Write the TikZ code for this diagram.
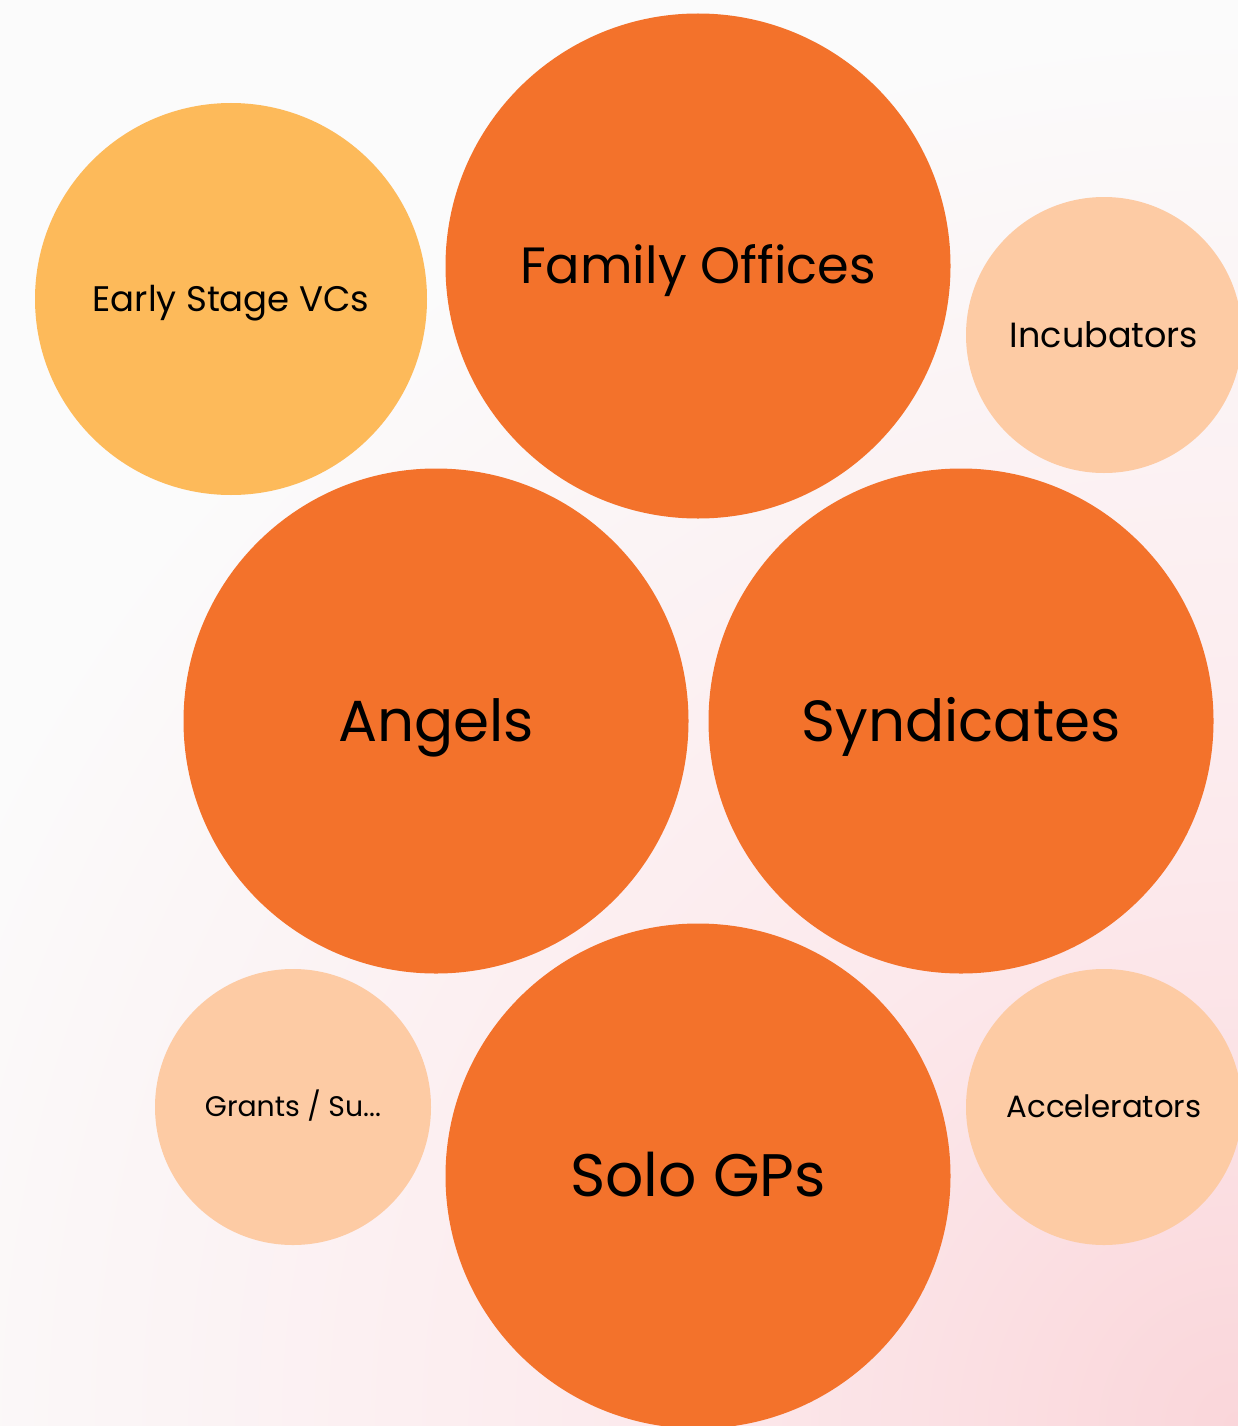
\documentclass[tikz,border=0pt]{standalone}
\usepackage{fontspec}
\setmainfont{Poppins}
\definecolor{bigor}{HTML}{F3722B}
\definecolor{midor}{HTML}{FDBA5A}
\definecolor{lightor}{HTML}{FDCBA4}
\definecolor{bgpink}{HTML}{FAD6DA}
\definecolor{bgmid}{HTML}{FCE9EC}
\definecolor{bgwhite}{HTML}{FBFBFB}
\pgfdeclareradialshading{bgshade}{\pgfpoint{0bp}{0bp}}{color(0bp)=(bgpink); color(10bp)=(bgmid); color(25bp)=(bgwhite); color(50bp)=(bgwhite)}
\newcommand{\capc}[1]{\raisebox{0pt}[\fontcharht\font`H][0pt]{#1}}
\begin{document}
\begin{tikzpicture}[x=1pt,y=-1pt,
  bubble/.style={circle,inner sep=0pt,text=black},
  big/.style={bubble,fill=bigor,minimum size=505pt,font=\fontsize{58}{66}\selectfont},
  mid/.style={bubble,fill=midor,minimum size=392pt,font=\fontsize{35.5}{42}\selectfont},
  small/.style={bubble,fill=lightor,minimum size=276pt,font=\fontsize{31}{38}\selectfont}]
\useasboundingbox (0,0) rectangle (1238,1426);
\begin{scope}
\clip (0,0) rectangle (1238,1426);
\fill[bgwhite] (0,0) rectangle (1238,1426);
\shade[shading=bgshade] (1238,1426) circle (1400);
\node[mid] (vcs) at (231,299) {\capc{Early Stage VCs}};
\node[big] (fam) at (698,266) {\fontsize{51}{60}\selectfont\capc{Family Offices}};
\node[small] (inc) at (1104,335) {\fontsize{35}{40}\selectfont\capc{Incubators}};
\node[big] (ang) at (436,721) {\capc{Angels}};
\node[big] (syn) at (961,721) {\capc{Syndicates}};
\node[small] (gra) at (293,1107) {\fontsize{28.3}{34}\selectfont\capc{Grants / Su...}};
\node[big] (solo) at (698,1176) {\fontsize{60}{66}\selectfont\capc{Solo GPs}};
\node[small] (acc) at (1104,1107) {\fontsize{30.8}{36}\selectfont\capc{Accelerators}};
\end{scope}
\end{tikzpicture}
\end{document}
